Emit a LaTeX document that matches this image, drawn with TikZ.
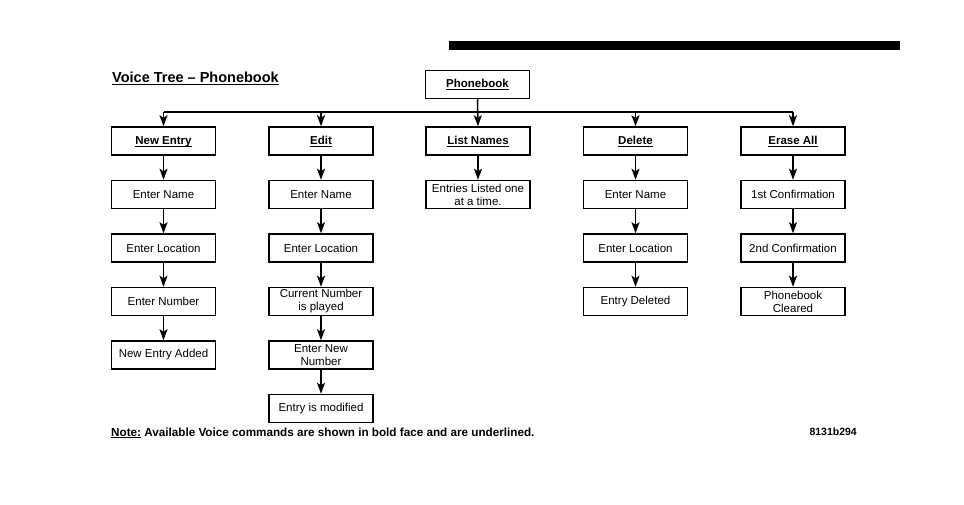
\documentclass[tikz,border=0pt]{standalone}
\usepackage{fontspec}
\setmainfont{Liberation Sans}
\usetikzlibrary{arrows.meta, positioning}
\tikzset{
  cmdbox/.style={
    draw=black, fill=white, line width=1.5pt,
    minimum width=104pt, minimum height=28pt, align=center,
    inner xsep=2pt, inner ysep=1pt, text height=9pt, text depth=2.5pt,
    font=\fontsize{11.5}{13}\selectfont\bfseries
  },
  stepbox/.style={
    draw=black, fill=white, line width=1.5pt,
    minimum width=104pt, minimum height=28pt, align=center,
    inner xsep=2pt, inner ysep=1pt, font=\fontsize{11.5}{13}\selectfont
  },
  treearrow/.style={
    -{Stealth[length=11pt,width=8pt,inset=2.5pt]},
    draw=black, line width=1.5pt
  },
  diagramtitle/.style={
    font=\fontsize{14.5}{17}\selectfont\bfseries, inner sep=0pt
  },
  notetext/.style={
    font=\fontsize{11.7}{13}\selectfont\bfseries, inner sep=0pt
  },
}
\newcommand{\cmd}[1]{\setbox0\hbox{#1}\rlap{\rule[-2.2pt]{\wd0}{0.9pt}}\box0\relax}

\begin{document}
\begin{tikzpicture}[x=1pt, y=-1pt, node distance=24pt]
  \useasboundingbox (0,0) rectangle (964,505);
  \fill[black] (449,41) rectangle (900,50);

  \node[diagramtitle, anchor=base west] (T) at (112,83) {\cmd{Voice Tree -- Phonebook}};

  %% Root
  \node[cmdbox] (pb) at (477.5,84.5) {\cmd{Phonebook}};
  \coordinate (bus) at (0,112);

  %% Commands
  \node[cmdbox] (ne) at (163.5,141) {\cmd{New Entry}};
  \node[cmdbox] (ed) at (321,141) {\cmd{Edit}};
  \node[cmdbox] (ln) at (478,141) {\cmd{List Names}};
  \node[cmdbox] (dl) at (635.5,141) {\cmd{Delete}};
  \node[cmdbox] (ea) at (793,141) {\cmd{Erase All}};

  \draw[line width=1.5pt] (ne.north |- bus) -- (ea.north |- bus);
  \draw[treearrow] (pb.south) -- (ln.north);
  \foreach \c in {ne, ed, dl, ea}
    \draw[treearrow] (\c.north |- bus) -- (\c.north);

  %% New Entry
  \node[stepbox, below=of ne] (ne1) {Enter Name};
  \node[stepbox, below=of ne1] (ne2) {Enter Location};
  \node[stepbox, below=of ne2] (ne3) {Enter Number};
  \node[stepbox, below=of ne3] (ne4) {New Entry Added};

  %% Edit
  \node[stepbox, below=of ed] (ed1) {Enter Name};
  \node[stepbox, below=of ed1] (ed2) {Enter Location};
  \node[stepbox, below=of ed2] (ed3) {Current Number\\is played};
  \node[stepbox, below=of ed3] (ed4) {Enter New\\Number};
  \node[stepbox, below=of ed4] (ed5) {Entry is modified};

  %% List Names
  \node[stepbox, below=of ln] (ln1) {Entries Listed one\\at a time.};

  %% Delete
  \node[stepbox, below=of dl] (dl1) {Enter Name};
  \node[stepbox, below=of dl1] (dl2) {Enter Location};
  \node[stepbox, below=of dl2] (dl3) {Entry Deleted};

  %% Erase All
  \node[stepbox, below=of ea] (ea1) {1st Confirmation};
  \node[stepbox, below=of ea1] (ea2) {2nd Confirmation};
  \node[stepbox, below=of ea2] (ea3) {Phonebook\\Cleared};

  \foreach \a/\b in {ne/ne1, ne1/ne2, ne2/ne3, ne3/ne4,
                     ed/ed1, ed1/ed2, ed2/ed3, ed3/ed4, ed4/ed5,
                     ln/ln1,
                     dl/dl1, dl1/dl2, dl2/dl3,
                     ea/ea1, ea1/ea2, ea2/ea3}
    \draw[treearrow] (\a.south) -- (\b.north);

  %% Note
  \node[notetext, anchor=base west] (note) at (111,436)
    {\cmd{Note:} Available Voice commands are shown in bold face and are underlined.};
  \node[notetext, font=\fontsize{10.5}{12}\selectfont\bfseries, anchor=base east] (ref) at (857,435) {8131b294};
\end{tikzpicture}
\end{document}
